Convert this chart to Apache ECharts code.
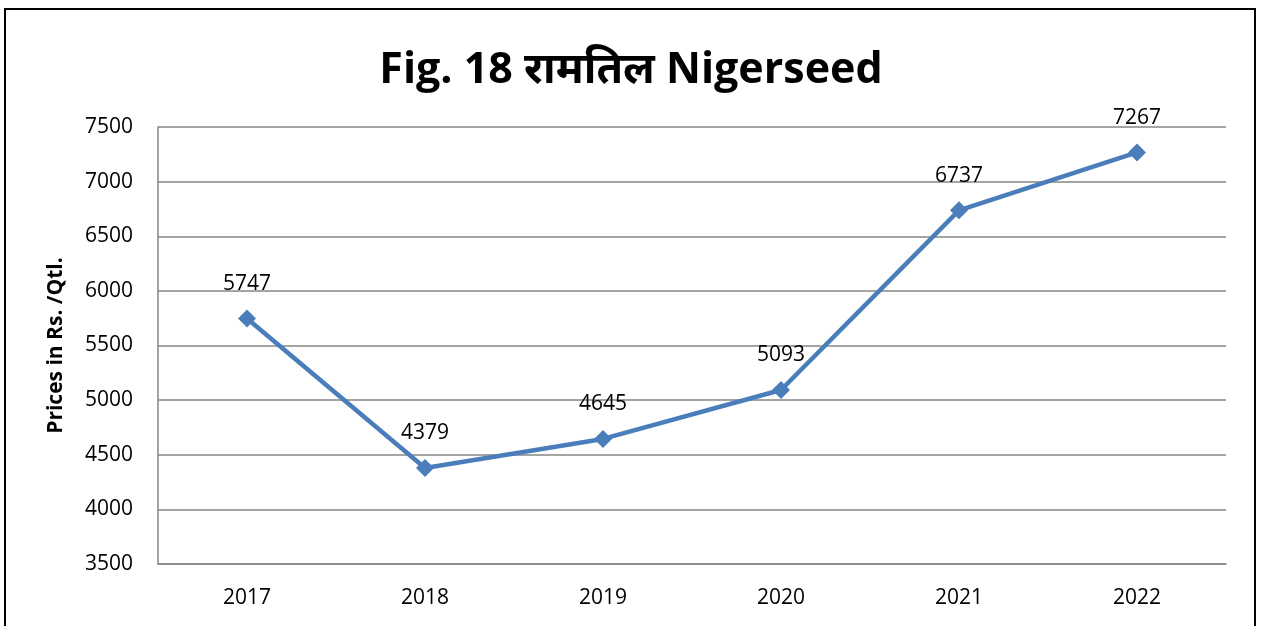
<!DOCTYPE html>
<html>
<head>
<meta charset="utf-8">
<script src="https://cdn.jsdelivr.net/npm/echarts@6/dist/echarts.min.js"></script>
<style>
  html, body { margin: 0; padding: 0; background: #fff; }
  #chart { width: 1262px; height: 626px; }
</style>
</head>
<body>
<div id="chart"></div>
<script>
const years = ["2017", "2018", "2019", "2020", "2021", "2022"];
const prices = [5747, 4379, 4645, 5093, 6737, 7267];
const yMin = 3500;
const yMax = 7500;
const yStep = 500;

const font = "'Open Sans', 'Noto Sans', sans-serif";
const chart = echarts.init(document.getElementById("chart"));

const option = {
  backgroundColor: "#fff",
  animation: false,
  title: {
    text: "Fig. 18 रामतिल Nigerseed",
    left: "center",
    top: 44,
    textStyle: { fontFamily: font, fontSize: 43, fontWeight: "bold", color: "#000" },
  },
  graphic: [
    {
      type: "rect",
      shape: { x: 5, y: 9, width: 1250, height: 640 },
      style: { fill: "none", stroke: "#000", lineWidth: 2 },
    },
  ],
  grid: { left: 158, right: 36, top: 127, bottom: 62 },
  xAxis: {
    type: "category",
    data: years,
    boundaryGap: true,
    axisLine: { lineStyle: { color: "#868686", width: 1.5 } },
    axisTick: { show: false },
    axisLabel: { color: "#000", fontFamily: font, fontSize: 21, margin: 24 },
  },
  yAxis: {
    type: "value",
    min: yMin,
    max: yMax,
    interval: yStep,
    name: "Prices in Rs. /Qtl.",
    nameLocation: "middle",
    nameGap: 91,
    nameTextStyle: { color: "#000", fontFamily: font, fontSize: 21, fontWeight: "bold" },
    axisLine: { show: true, lineStyle: { color: "#868686", width: 1.5 } },
    axisTick: { show: false },
    axisLabel: {
      color: "#000",
      fontFamily: font,
      fontSize: 21,
      margin: 25,
      formatter: (v) => String(v),
    },
    splitLine: { lineStyle: { color: "#868686", width: 1.5 } },
  },
  series: [
    {
      type: "line",
      data: prices,
      symbol: "diamond",
      symbolSize: 18,
      lineStyle: { color: "#4a7ebb", width: 4.5 },
      itemStyle: { color: "#4a7ebb" },
      label: {
        show: true,
        position: "top",
        distance: 15,
        color: "#000",
        fontFamily: font,
        fontSize: 21,
      },
    },
  ],
};

chart.setOption(option);
</script>
</body>
</html>
